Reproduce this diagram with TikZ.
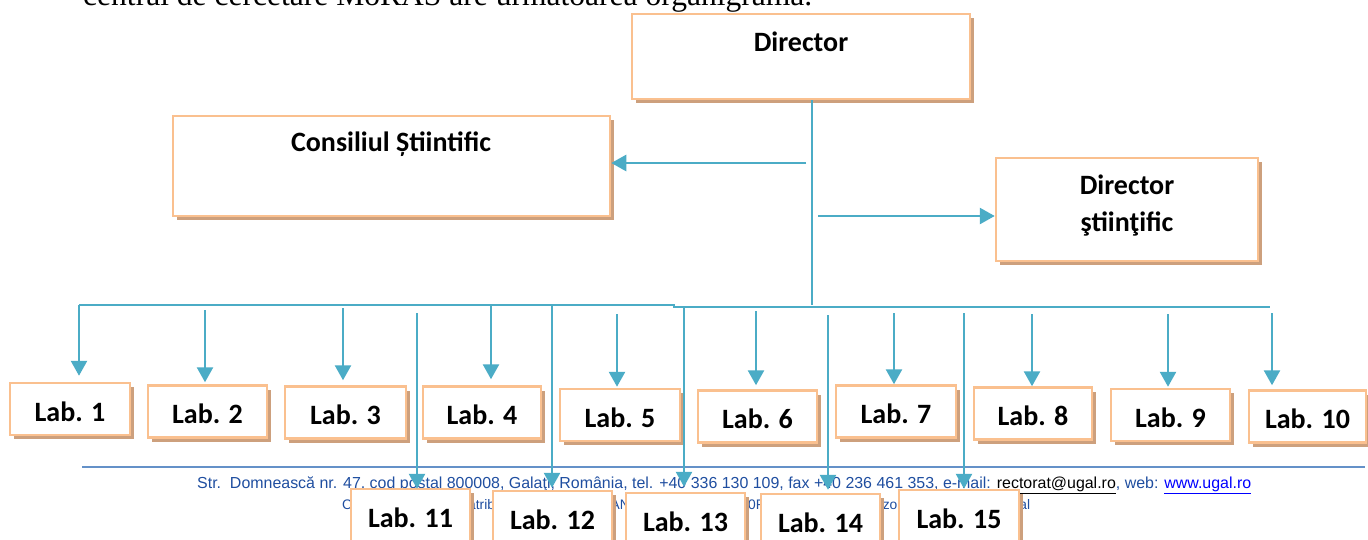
\documentclass[tikz,border=0pt]{standalone}
\usepackage{fontspec}
\usepackage{graphicx}
\setmainfont{Carlito}
\newfontfamily\bodyfont{Liberation Serif}
\newfontfamily\footfont{Liberation Sans}
\usetikzlibrary{shadows,arrows.meta}
\definecolor{boxline}{RGB}{250,192,143}
\definecolor{shadowcol}{RGB}{205,160,125}
\definecolor{conncol}{RGB}{75,172,198}
\definecolor{footblue}{RGB}{31,78,160}
\definecolor{footrulecol}{RGB}{100,145,200}
\definecolor{linkblue}{RGB}{0,0,255}
\tikzset{
  orgbox/.style={draw=boxline, line width=2.5pt, fill=white, inner sep=0pt,
    drop shadow={shadow xshift=4pt, shadow yshift=-4pt, fill=shadowcol, opacity=1}},
  labbox/.style={orgbox, font=\fontsize{28}{32}\selectfont\bfseries,
    text height=24pt, text depth=0pt, minimum height=52pt},
  boxtext/.style={inner sep=0pt, font=\fontsize{28}{37}\selectfont\bfseries, align=center},
  conn/.style={draw=conncol, line width=2.6pt},
  arr/.style={conn, -{Triangle[width=16pt,length=15pt]}},
  footrule/.style={draw=footrulecol, line width=1.3pt},
  foottext/.style={inner sep=0pt, text=footblue, font=\footfont\fontsize{14}{16}\selectfont}
}
\begin{document}
\begin{tikzpicture}[x=1pt,y=-1pt]
\fill[white] (0,0) rectangle (1368,539);
\useasboundingbox (0,0) rectangle (1368,539);

% text of the page
\node[anchor=base west, inner sep=0pt] (intro) at (83,5)
  {\resizebox{729pt}{!}{\bodyfont\fontsize{26}{30}\selectfont central de cercetare MoRAS are următoarea organigramă.}};

% footer
\draw[footrule] (82,467) -- (1365,467);
\node[foottext, anchor=base west] (foot1) at (197,488)
  {\resizebox{1054pt}{!}{Str.\ \ Domnească nr. 47, cod poştal 800008, Galaţi, România, tel. +40 336 130 109, fax +40 236 461 353, e-mail: \textcolor{black}{\underline{rectorat@ugal.ro}}, web: \textcolor{linkblue}{\underline{www.ugal.ro}}}};
\node[foottext, anchor=base west] (foot2) at (342,509)
  {\resizebox{688pt}{!}{Cod fiscal 3127195, atrib. fiscal RO, cont IBAN RO53 TREZ 3062 0F33 0500 XXXX, Trezoreria Galaţi, cod fiscal}};

% top boxes
\node[orgbox, minimum width=338pt, minimum height=85pt] (dir) at (801,56.5) {};
\node[boxtext] (dirT) at (801,42) {Director};
\node[orgbox, minimum width=437pt, minimum height=100pt] (cons) at (391.5,166) {};
\node[boxtext] (consT) at (391,144) {Consiliul Știintific};
\node[orgbox, minimum width=262pt, minimum height=103pt] (dst) at (1127,209.5) {};
\node[boxtext] (dstT) at (1127,205.5) {Director\\ştiinţific};

% lab boxes, first row
\node[labbox, minimum width=120pt] (lab1) at (70,409) {Lab. 1};
\node[labbox, minimum width=119pt] (lab2) at (207.5,411.5) {Lab. 2};
\node[labbox, minimum width=121pt] (lab3) at (345.5,412.5) {Lab. 3};
\node[labbox, minimum width=118pt] (lab4) at (482,412.5) {Lab. 4};
\node[labbox, minimum width=120pt] (lab5) at (620,415) {Lab. 5};
\node[labbox, minimum width=119pt] (lab6) at (757.5,416.5) {Lab. 6};
\node[labbox, minimum width=120pt] (lab7) at (896,411.5) {Lab. 7};
\node[labbox, minimum width=118pt] (lab8) at (1033,413.5) {Lab. 8};
\node[labbox, minimum width=119pt] (lab9) at (1170.5,415) {Lab. 9};
\node[labbox, minimum width=117pt] (lab10) at (1307.5,416.5) {Lab. 10};
% second row
\node[labbox, minimum width=119pt] (lab11) at (410.5,515) {Lab. 11};
\node[labbox, minimum width=119pt] (lab12) at (552.5,517) {Lab. 12};
\node[labbox, minimum width=119pt] (lab13) at (685.5,519) {Lab. 13};
\node[labbox, minimum width=119pt] (lab14) at (820.5,520) {Lab. 14};
\node[labbox, minimum width=120pt] (lab15) at (959,516) {Lab. 15};

% connector points
\coordinate (trunk) at (812,305);
\coordinate (busL) at (79,305);
\coordinate (busM) at (675,305);
\coordinate (busM2) at (673,307);
\coordinate (busR) at (1270,307);
\coordinate (cs) at (806,163);
\coordinate (ds) at (818,216);
\coordinate (b2) at (205,310);
\coordinate (b3) at (343,308);
\coordinate (b4) at (491,305);
\coordinate (b5) at (617,314);
\coordinate (b6) at (756,311);
\coordinate (b7) at (894,313);
\coordinate (b8) at (1032,314);
\coordinate (b9) at (1168,314);
\coordinate (b10) at (1272,313);
\coordinate (b11) at (417,313);
\coordinate (b12) at (552,305);
\coordinate (b13) at (684,307);
\coordinate (b14) at (828,315);
\coordinate (b15) at (964,313);

% connectors
\draw[conn] (dir.south -| trunk) -- (trunk);
\draw[conn] (busL) -- (busM);
\draw[conn] (busM2) -- (busR);
\draw[arr] (cs) -- (cs -| cons.east);
\draw[arr] (ds) -- (ds -| dst.west);
\draw[arr, shorten >=6pt] (busL) -- (busL |- lab1.north);
\draw[arr, shorten >=2pt] (b2) -- (b2 |- lab2.north);
\draw[arr, shorten >=5pt] (b3) -- (b3 |- lab3.north);
\draw[arr, shorten >=6pt] (b4) -- (b4 |- lab4.north);
\draw[arr, shorten >=1pt] (b5) -- (b5 |- lab5.north);
\draw[arr, shorten >=4pt] (b6) -- (b6 |- lab6.north);
\draw[arr] (b7) -- (b7 |- lab7.north);
\draw[arr] (b8) -- (b8 |- lab8.north);
\draw[arr, shorten >=1pt] (b9) -- (b9 |- lab9.north);
\draw[arr, shorten >=4pt] (b10) -- (b10 |- lab10.north);
\draw[arr, shorten >=-1pt] (b11) -- (b11 |- lab11.north);
\draw[arr, shorten >=2pt] (b12) -- (b12 |- lab12.north);
\draw[arr, shorten >=5pt] (b13) -- (b13 |- lab13.north);
\draw[arr, shorten >=3pt] (b14) -- (b14 |- lab14.north);
\draw[arr] (b15) -- (b15 |- lab15.north);
\end{tikzpicture}
\end{document}
